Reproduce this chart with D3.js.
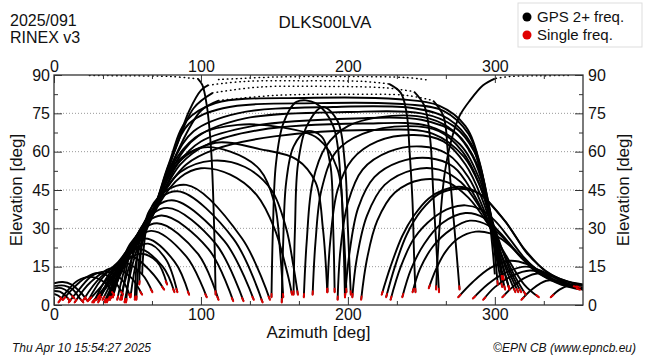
<!DOCTYPE html>
<html><head><meta charset="utf-8">
<script src="https://cdn.jsdelivr.net/npm/d3@7"></script>
<style>
body{margin:0;background:#fff}
svg{display:block}
text{font-family:"Liberation Sans",Arial,Helvetica,sans-serif;fill:#111}
</style>
</head><body>
<svg id="chart" width="650" height="360"></svg>
<script>
// ---------------- text / ticks ----------------
const stationName = "DLKS00LVA";
const dayLabel = "2025/091";
const rinexLabel = "RINEX v3";
const legendLabels = ["GPS 2+ freq.", "Single freq."];
const footLeft = "Thu Apr 10 15:54:27 2025";
const footRight = "\u00A9EPN CB (www.epncb.eu)";
const xLabel = "Azimuth [deg]";
const yLabel = "Elevation [deg]";
const xTicks = [0, 100, 200, 300];
const xMinorTicks = [33.33, 66.67, 133.33, 166.67, 233.33, 266.67, 333.33];
const yTicks = [0, 15, 30, 45, 60, 75, 90];
const yMinorTicks = [7.5, 22.5, 37.5, 52.5, 67.5, 82.5];
const gridLevels = [15, 30, 45, 60, 75];

// ---------------- satellite tracks [azimuth, elevation] ----------------
const tracksCorner = [
  [[0,8.5],[6,9],[12,8],[18,5],[23,1.5]],
  [[0,7.4],[7,7.6],[13,6],[17,3],[20,1]],
  [[0,6.5],[5,6.6],[10,5],[14,2.5]],
  [[0,5.5],[4,5.2],[8,3.5],[11,1.5]],
  [[0,4.3],[3,3.6],[6,2]],
  [[3,1],[9,5.5],[16,9.5],[25,11],[34,9],[41,4]],
  [[6,2],[13,6.5],[21,10.5],[30,12.5],[40,10],[47,4]],
  [[10,1],[17,6],[26,11.5],[36,13],[46,10],[52,3]]
];
const tracksLeftArch = [
  [[14,1],[25,9],[40,14.5],[52,11],[60,4]],
  [[20,2],[32,11],[48,16.5],[60,12],[67,5]],
  [[23,1.5],[35,12],[52,19],[66,13],[75,6]],
  [[27,1],[40,14],[57,22],[74,15],[82,5]],
  [[30,1],[42,13],[58,20],[70,17],[77,8]],
  [[31,2],[44,17],[62,26],[82,17],[92,4]],
  [[36,1],[48,20],[66,29],[90,19],[104,3]],
  [[38,2],[50,19],[64,24],[76,18],[84,5]],
  [[40,3],[52,24],[70,32],[98,20],[112,2]],
  [[46,2],[56,27],[73,35],[105,22],[122,1.5]],
  [[49,1],[59,30],[77,38],[110,24],[129,1.5]],
  [[55,2],[62,33],[80,41],[116,25],[136,2]],
  [[58,8],[65,37],[84,44.5],[122,26],[142,1]],
  [[60,12],[68,40],[90,47],[128,26],[147,2]]
];
const tracksLeftHigh = [
  [[45,2],[54,20],[68,38],[82,55],[100,61.5],[120,60],[140,53],[150,40],[154,20],[156,3]],
  [[48,1],[56,21],[70,40],[85,56],[110,63.5],[140,61],[165,57],[178,48],[183,30],[186,5]],
  [[34,1],[48,17],[67,36],[84,58],[100,67],[125,70.5],[155,69.5],[180,65],[193,53],[197,30],[199,5]],
  [[52,3],[58,22],[70,39],[86,52],[108,56.5],[130,54],[148,45],[158,30],[163,15],[166,4]],
  [[56,2],[60,24],[72,40],[86,50],[100,53.5],[120,51],[138,43],[150,30],[159,12],[162,4]]
];
const tracksMiddle = [
  [[148,3],[149,30],[151,55],[156,71],[165,79.5],[178,79],[190,70],[195,50],[197,25],[198,3]],
  [[163,4],[164,30],[166,55],[172,70],[183,77.5],[193,72],[198,55],[200,30],[202,4]],
  [[155,1],[156,25],[158,48],[163,62],[172,68],[182,66],[188,55],[190,30],[191,5]]
];
const tracksRightHigh = [
  [[170,3],[172,25],[176,48],[185,62],[200,70],[230,74],[255,73],[272,68],[285,58],[294,43],[300,28],[305,10]],
  [[176,4],[178,25],[182,45],[192,60],[210,67],[240,70],[262,68],[278,60],[289,48],[297,33],[303,15]],
  [[186,5],[188,25],[193,45],[203,57],[220,64],[245,66.5],[265,64],[280,55],[291,42],[299,28],[306,10]],
  [[193,2],[195,22],[200,40],[210,53],[228,60],[250,62],[268,59],[282,50],[292,38],[302,22],[310,6]],
  [[198,3],[201,20],[207,38],[218,50],[235,56],[255,57.5],[272,54],[285,44],[297,30],[308,15],[316,5]],
  [[203,3],[206,18],[213,35],[225,47],[245,53],[262,53],[277,48],[290,38],[302,25],[313,12],[321,4]],
  [[209,2],[213,18],[220,33],[232,44],[250,49],[268,48],[282,42],[295,32],[307,20],[320,8],[330,3]]
];
const tracksLong = [
  [[30,3],[45,16],[64,32],[78,55],[90,72],[110,79],[170,81],[235,80.5],[262,78],[280,70],[290,55],[296,35],[300,12]],
  [[33,2],[47,17],[65,33],[79,56],[92,71],[115,77],[180,79],[240,78.5],[265,76],[282,67],[292,50],[298,30],[302,8]],
  [[26,1],[44,14],[63,30],[80,55],[95,68],[125,75],[190,77.5],[245,77],[268,73],[284,63],[293,45],[299,25],[305,7]],
  [[37,2],[48,18],[66,34],[82,55],[98,66],[130,73],[200,75.5],[250,75],[272,70],[286,60],[295,42],[301,22],[307,6]],
  [[40,3],[50,20],[67,35],[84,55],[100,64],[135,70],[205,73],[250,72.5],[274,67],[288,55],[296,38],[304,18],[310,6]],
  [[43,2],[52,21],[68,37],[86,55],[105,63],[140,68.5],[210,71],[255,70],[276,63],[289,50],[298,33],[307,15],[314,5]],
  [[24,2],[43,15],[70,40],[90,55],[110,61],[150,66],[215,68.5],[258,67],[279,58],[291,45],[300,30],[310,14],[318,5]]
];
const tracksRightArch = [
  [[223,4],[229,15],[237,27],[245,35],[255,41.7],[265,45],[275.6,46.3],[285,45],[293.7,41.7],[300,37.5],[307.3,32.6],[314,27],[321,20.9],[330,15.5],[339,11.7],[350,9],[360,7.8]],
  [[226,3],[232,15],[240,27.5],[250,37],[262,43.5],[275,45.5],[288,44],[298,39],[308,32],[320,22],[335,13],[348,9.5],[360,8]],
  [[255,6.5],[260,14],[266.5,20.9],[275,26],[287,28.7],[297,28],[307,24.8],[317,19.5],[327.8,14.3],[340,10],[352,8],[360,7.5]],
  [[229,2],[236,15],[245,26],[258,34],[270,38],[280,39],[290,37.5],[300,33],[310,26],[320,18.5],[332,12],[345,8.5],[358,7]],
  [[237,3],[243,14],[252,24],[264,32],[280,36],[293,34],[304,28],[316,20],[328,13],[342,9],[356,7]],
  [[244,5],[249,14],[258,23],[270,29.5],[283,33],[296,31],[307,25.5],[318,18.5],[330,12.5],[345,8],[360,6.5]],
  [[285,2.5],[295,8],[305,12],[321,15],[333,13],[345,9.5],[355,7],[360,6]],
  [[305,3],[312,7],[320,10.5],[330,12.4],[340,11],[350,8],[360,6.5]],
  [[318,2],[325,6],[335,9.5],[345,9],[355,7],[360,6]],
  [[275,3],[285,9],[297,14.5],[310,17.3],[322,16],[334,12],[346,8],[358,6]],
  [[292,2],[300,7],[312,11.5],[324,13.5],[336,12],[348,8.5],[360,6]],
  [[338,3],[344,6],[350,7.5],[356,7.2],[360,7]]
];
const tracksZenithSolid = [
  [[110,4],[109,30],[107,60],[104,78],[101,86],[98,88.5]],
  [[300,88.6],[292,86],[283,80],[276,74],[270.6,65],[266,52],[263,35],[261,18],[260,6]],
  [[35,1],[50,18],[66,35],[80,57],[92,76],[100,84],[105,86]],
  [[228,86.5],[236,83],[240,75],[242,60],[244,40],[245,20],[246,5]],
  [[29,2],[46,15],[65,33],[82,60],[95,77],[108,83]],
  [[245,83.5],[252,78],[256,65],[258,45],[260,25],[262,5]],
  [[38,2],[50,18],[67,36],[84,60],[100,76],[112,80]],
  [[258,80],[265,74],[268,60],[271,40],[274,20],[276,6]]
];
const tracksZenithDotted = [
  [[98,88.5],[80,89.4],[50,89.7],[22,89.8]],
  [[350,89.8],[330,89.7],[310,89.4],[300,88.6]],
  [[105,86],[130,87.5],[170,87.7],[210,87.5],[228,86.5]],
  [[108,83],[140,85.3],[190,85.5],[225,85],[245,83.5]],
  [[112,80],[150,82],[200,82.5],[240,82],[258,80]],
  [[112,88.2],[150,89.2],[200,89.4],[240,89],[255,88]]
];

// ---------------- drawing ----------------
const svg = d3.select("#chart");
const W = 650, H = 360;
const m = {left: 54, right: 583, top: 75, bottom: 305};
const x = d3.scaleLinear().domain([0, 360]).range([m.left, m.right]);
const y = d3.scaleLinear().domain([0, 90]).range([m.bottom, m.top]);

svg.append("rect").attr("width", W).attr("height", H).attr("fill", "#fff");

svg.append("defs").append("clipPath").attr("id", "plotclip")
  .append("rect").attr("x", m.left).attr("y", m.top)
  .attr("width", m.right - m.left).attr("height", m.bottom - m.top);

// grid
svg.append("g").selectAll("line").data(gridLevels).join("line")
  .attr("x1", m.left).attr("x2", m.right)
  .attr("y1", d => y(d)).attr("y2", d => y(d))
  .attr("stroke", "#999").attr("stroke-width", 1)
  .attr("stroke-dasharray", "1,2");

const plot = svg.append("g").attr("clip-path", "url(#plotclip)");
const line = d3.line().x(d => x(d[0])).y(d => y(d[1]))
  .curve(d3.curveCatmullRom.alpha(0.5));

const solidTracks = [].concat(tracksCorner, tracksLeftArch, tracksLeftHigh,
  tracksMiddle, tracksRightHigh, tracksLong, tracksRightArch, tracksZenithSolid);

plot.append("g").selectAll("path").data(solidTracks).join("path")
  .attr("d", line).attr("fill", "none").attr("stroke", "#000")
  .attr("stroke-width", 1.9).attr("stroke-linejoin", "round");

plot.append("g").selectAll("path").data(tracksZenithDotted).join("path")
  .attr("d", line).attr("fill", "none").attr("stroke", "#000")
  .attr("stroke-width", 1.5).attr("stroke-linecap", "round")
  .attr("stroke-dasharray", "0.5,4");

// red low-elevation ends (single frequency)
const redEnds = [];
solidTracks.forEach(t => {
  [[t[0], t[1]], [t[t.length - 1], t[t.length - 2]]].forEach(([p, q]) => {
    if (p[1] < 11 && p[0] > 0.5 && p[0] < 359.5) {
      const x0 = x(p[0]), y0 = y(p[1]), x1 = x(q[0]), y1 = y(q[1]);
      const dx = x1 - x0, dy = y1 - y0, len = Math.hypot(dx, dy) || 1;
      const L = Math.min(3.5, len);
      redEnds.push([x0, y0, x0 + dx / len * L, y0 + dy / len * L]);
    }
  });
});
plot.append("g").selectAll("line").data(redEnds).join("line")
  .attr("x1", d => d[0]).attr("y1", d => d[1]).attr("x2", d => d[2]).attr("y2", d => d[3])
  .attr("stroke", "#e00000").attr("stroke-width", 1.9).attr("stroke-linecap", "round");

// axes (ticks inward)
const fs = 16;
function styleAxis(g) {
  g.select(".domain").remove();
  g.selectAll(".tick line").attr("stroke", "#333");
  g.selectAll("text").style("font-size", fs + "px").attr("fill", "#111")
    .style("font-family", '"Liberation Sans",Arial,sans-serif');
}
svg.append("g").attr("transform", `translate(0,${m.bottom})`)
  .call(d3.axisBottom(x).tickValues(xTicks).tickSize(-8).tickPadding(4)).call(styleAxis);
svg.append("g").attr("transform", `translate(0,${m.bottom})`)
  .call(d3.axisBottom(x).tickValues(xMinorTicks).tickSize(-4).tickFormat("")).call(styleAxis);
svg.append("g").attr("transform", `translate(0,${m.top})`)
  .call(d3.axisTop(x).tickValues(xTicks).tickSize(-8).tickPadding(3)).call(styleAxis);
svg.append("g").attr("transform", `translate(0,${m.top})`)
  .call(d3.axisTop(x).tickValues(xMinorTicks).tickSize(-4).tickFormat("")).call(styleAxis);
svg.append("g").attr("transform", `translate(${m.left},0)`)
  .call(d3.axisLeft(y).tickValues(yTicks).tickSize(-8).tickPadding(4)).call(styleAxis);
svg.append("g").attr("transform", `translate(${m.left},0)`)
  .call(d3.axisLeft(y).tickValues(yMinorTicks).tickSize(-4).tickFormat("")).call(styleAxis);
svg.append("g").attr("transform", `translate(${m.right},0)`)
  .call(d3.axisRight(y).tickValues(yTicks).tickSize(-8).tickPadding(5)).call(styleAxis);
svg.append("g").attr("transform", `translate(${m.right},0)`)
  .call(d3.axisRight(y).tickValues(yMinorTicks).tickSize(-4).tickFormat("")).call(styleAxis);

// frame
svg.append("rect").attr("x", m.left).attr("y", m.top)
  .attr("width", m.right - m.left).attr("height", m.bottom - m.top)
  .attr("fill", "none").attr("stroke", "#333").attr("stroke-width", 1.3);

// axis titles
svg.append("text").attr("x", (m.left + m.right) / 2).attr("y", 338)
  .attr("text-anchor", "middle").style("font-size", "17px").text(xLabel);
svg.append("text").attr("transform", `translate(22,${(m.top + m.bottom) / 2}) rotate(-90)`)
  .attr("text-anchor", "middle").style("font-size", "17px").text(yLabel);
svg.append("text").attr("transform", `translate(629,${(m.top + m.bottom) / 2}) rotate(-90)`)
  .attr("text-anchor", "middle").style("font-size", "17px").text(yLabel);

// header
svg.append("text").attr("x", 325).attr("y", 28).attr("text-anchor", "middle")
  .style("font-size", "17px").text(stationName);
svg.append("text").attr("x", 10).attr("y", 26).style("font-size", "16px").text(dayLabel);
svg.append("text").attr("x", 10).attr("y", 43).style("font-size", "16px").text(rinexLabel);

// legend
const lg = svg.append("g");
lg.append("rect").attr("x", 518).attr("y", 3).attr("width", 124).attr("height", 44)
  .attr("fill", "#fff").attr("stroke", "#ddd").attr("stroke-width", 1);
const legendColors = ["#000", "#e00000"];
legendLabels.forEach((lab, i) => {
  lg.append("circle").attr("cx", 527).attr("cy", 17 + i * 18).attr("r", 4.5).attr("fill", legendColors[i]);
  lg.append("text").attr("x", 537).attr("y", 22 + i * 18).style("font-size", "15px").text(lab);
});

// footer
svg.append("text").attr("x", 12).attr("y", 352).style("font-size", "12px")
  .style("font-style", "italic").text(footLeft);
svg.append("text").attr("x", 636).attr("y", 352).attr("text-anchor", "end")
  .style("font-size", "12px").style("font-style", "italic").text(footRight);
</script>
</body></html>
